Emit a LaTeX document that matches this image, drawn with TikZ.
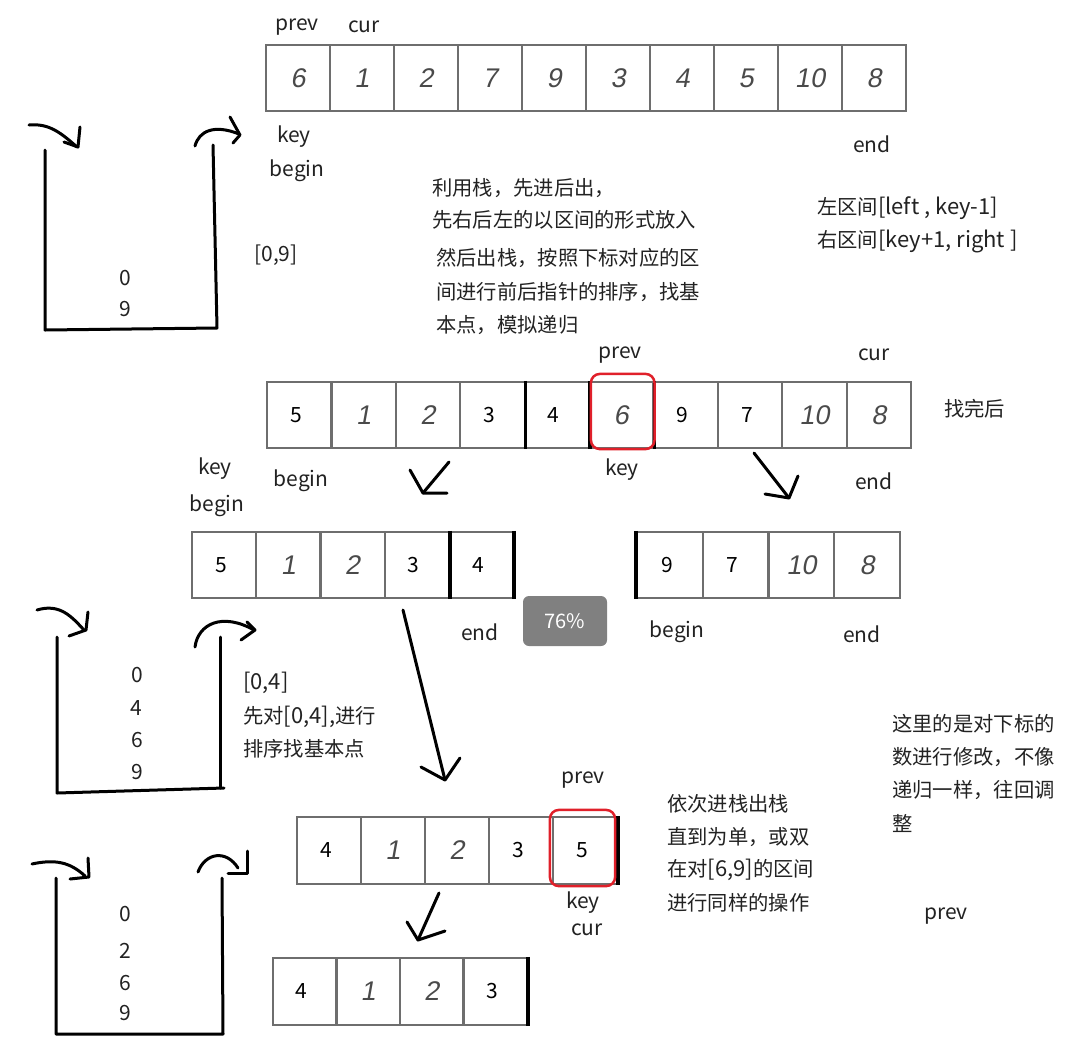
\documentclass[tikz,border=0pt]{standalone}
\usepackage{fontspec}
\setmainfont{Noto Sans CJK SC}
\newfontfamily\handf[FakeSlant=0.18]{Liberation Sans}
\newcommand\latw[1]{{\fontsize{22}{24}\selectfont #1}}
\usetikzlibrary{arrows.meta}
\definecolor{cellgray}{HTML}{6E6E6E}
\definecolor{handgray}{HTML}{4A4A4A}
\definecolor{txt}{HTML}{222222}
\definecolor{boxred}{HTML}{E0202A}
\definecolor{pctgray}{HTML}{808080}
\begin{document}
\begin{tikzpicture}[x=1pt,y=-1pt,
  cell/.style={draw=cellgray, line width=2.2pt, inner sep=0pt, minimum height=66pt},
  hd/.style={font={\handf\fontsize{27}{27}\selectfont}, text=handgray},
  ty/.style={font={\fontsize{21}{21}\selectfont}, text=black, text depth=0pt, text height=14pt, align=center, execute at begin node={\hspace*{-6pt}\raisebox{3pt}{}}},
  lbl/.style={font={\fontsize{21}{24}\selectfont}, text=txt, inner sep=0pt},
  zh/.style={font={\fontsize{20.3}{24}\selectfont}, text=txt, inner sep=0pt, anchor=west},
  thickb/.style={line width=3.5pt, black},
  stk/.style={line width=3pt, black, line cap=round, line join=round},
  redbox/.style={draw=boxred, line width=2.5pt, rounded corners=9pt},
]
\useasboundingbox (0,0) rectangle (1075,1063);
\fill[white] (0,0) rectangle (1075,1063);

% ---------- array 1 ----------
\foreach \v/\s [count=\i] in {6/hd,1/hd,2/hd,7/hd,9/hd,3/hd,4/hd,5/hd,10/hd,8/hd}
  \node[cell,\s,minimum width=64pt] (A\i) at ({266+(\i-0.5)*64},78) {\v};
\node[lbl] (a1prev) at (297,27) {prev};
\node[lbl] (a1cur) at (364,27) {cur};
\node[lbl] (a1key) at (294,137) {key};
\node[lbl] (a1begin) at (297,171) {begin};
\node[lbl] (a1end) at (872,144) {end};

% ---------- stack 1 ----------
\draw[stk] (45,150) -- (45,330) -- (217,328) -- (213,145);
\draw[stk] (29,125) .. controls (50,123) and (62,134) .. (77,147);
\draw[stk] (64,142) -- (78,147) -- (80,127);
\draw[stk] (195,146) .. controls (199,131) and (214,124) .. (239,134);
\draw[stk] (230,117) -- (240,135) -- (233,143);
\node[lbl] (s1a) at (125,278) {0};
\node[lbl] (s1b) at (125,309) {9};
\node[lbl] (s1r) at (276,255) {[0,9]};

% ---------- explanation 1 ----------
\node[zh] (t1) at (432,188) {利用栈，先进后出，};
\node[zh] (t2) at (432,220) {先右后左的以区间的形式放入};
\node[zh] (t3) at (436,258) {然后出栈，按照下标对应的区};
\node[zh] (t4) at (436,292) {间进行前后指针的排序，找基};
\node[zh] (t5) at (436,325) {本点，模拟递归};
\node[zh] (t6) at (817,208) {左区间\latw{[left , key-1]}};
\node[zh] (t7) at (817,241) {右区间\latw{[key+1, right ]}};

% ---------- array 2 ----------
\foreach \v/\s [count=\i] in {5/ty,1/hd,2/hd,3/ty,4/ty,6/hd,9/ty,7/ty,10/hd,8/hd}
  \node[cell,\s,minimum width=64.4pt] (B\i) at ({267+(\i-0.5)*64.4},415) {\v};
\draw[thickb] (B4.north east) -- (B4.south east);
\draw[thickb] (B5.north east) -- (B5.south east);
\draw[thickb] (B6.north east) -- (B6.south east);
\draw[redbox] ([shift={(3pt,7pt)}]B6.north west) rectangle ([shift={(0pt,0pt)}]B6.south east);
\node[lbl] (a2prev) at (620,355) {prev};
\node[lbl] (a2cur) at (874,355) {cur};
\node[zh] (a2done) at (944,409) {找完后};
\node[lbl] (a2key) at (622,470) {key};
\node[lbl] (a2end) at (874,481) {end};
\node[lbl] (a2key2) at (215,469) {key};
\node[lbl] (a2begin2) at (217,506) {begin};
\node[lbl] (a2begin) at (301,481) {begin};

% arrows from array 2
\coordinate (p1s) at (449,462); \coordinate (p1e) at (423,493);
\draw[stk] (p1s) -- (p1e);
\draw[stk] (410,470) -- (p1e) -- (447,493);
\coordinate (p2s) at (754,453); \coordinate (p2e) at (789,498);
\draw[stk] (p2s) -- (p2e);
\draw[stk] (765,494) -- (p2e) -- (798,476);

% ---------- array 3 ----------
\foreach \v/\s [count=\i] in {5/ty,1/hd,2/hd,3/ty,4/ty}
  \node[cell,\s,minimum width=64.2pt] (C\i) at ({192+(\i-0.5)*64.2},565) {\v};
\draw[thickb] (C4.north east) -- (C4.south east);
\draw[thickb] (C5.north east) -- (C5.south east);
\node[lbl] (a3end) at (480,632) {end};
\node[fill=pctgray, rounded corners=6pt, minimum width=84pt, minimum height=50pt,
      inner sep=0pt, text=white, font={\fontsize{20}{20}\selectfont}] (pct) at (565,621) {76\%};

% ---------- array 4 ----------
\foreach \v/\s [count=\i] in {9/ty,7/ty,10/hd,8/hd}
  \node[cell,\s,minimum width=65.75pt] (D\i) at ({637+(\i-0.5)*65.75},565) {\v};
\draw[thickb] (D1.north west) -- (D1.south west);
\node[lbl] (a4begin) at (677,632) {begin};
\node[lbl] (a4end) at (862,634) {end};

% ---------- stack 2 ----------
\draw[stk] (57,637) -- (57,793) -- (224,788);
\draw[stk] (220,637) -- (220,788);
\draw[stk] (37,610) .. controls (60,603) and (72,617) .. (84,630);
\draw[stk] (88,612) -- (86,630) -- (69,636);
\draw[stk] (195,647) .. controls (198,624) and (222,612) .. (254,630);
\draw[stk] (247,622) -- (255,630) -- (241,640);
\node[lbl] (s2a) at (137,675) {0};
\node[lbl] (s2b) at (136,708) {4};
\node[lbl] (s2c) at (137,740) {6};
\node[lbl] (s2d) at (137,772) {9};
\node[zh] (u1) at (243,683) {\latw{[0,4]}};
\node[zh] (u2) at (243,717) {先对\latw{[0,4],}进行};
\node[zh] (u3) at (243,749) {排序找基本点};

% arrow array 3 -> array 5
\coordinate (p3s) at (403,610); \coordinate (p3e) at (445,780);
\draw[stk] (p3s) -- (p3e);
\draw[stk] (421,767) -- (p3e) -- (460,758);

% ---------- array 5 ----------
\foreach \v/\s [count=\i] in {4/ty,1/hd,2/hd,3/ty,5/ty}
  \node[cell,\s,minimum width=64pt,minimum height=67pt] (E\i) at ({297+(\i-0.5)*64},850.5) {\v};
\draw[thickb] (E5.north east) -- (E5.south east);
\draw[redbox] ([shift={(-2pt,6pt)}]E5.north west) rectangle ([shift={(-3pt,-1pt)}]E5.south east);
\node[lbl] (a5prev) at (583,780) {prev};
\node[lbl] (a5key) at (583,903) {key};
\node[lbl] (a5cur) at (587,930) {cur};

\node[zh] (v1) at (667,804) {依次进栈出栈};
\node[zh] (v2) at (667,837) {直到为单，或双};
\node[zh] (v3) at (667,870) {在对\latw{[6,9]}的区间};
\node[zh] (v4) at (667,903) {进行同样的操作};

\node[zh] (w1) at (892,724) {这里的是对下标的};
\node[zh] (w2) at (892,757) {数进行修改，不像};
\node[zh] (w3) at (892,790) {递归一样，往回调};
\node[zh] (w4) at (892,823) {整};
\node[lbl] (rprev) at (946,916) {prev};

% arrow array 5 -> array 6
\coordinate (p4s) at (439,893); \coordinate (p4e) at (418,940);
\draw[stk] (p4s) -- (p4e);
\draw[stk] (407,922) -- (p4e) -- (445,931);

% ---------- array 6 ----------
\foreach \v/\s [count=\i] in {4/ty,1/hd,2/hd,3/ty}
  \node[cell,\s,minimum width=63.5pt,minimum height=67pt] (F\i) at ({273+(\i-0.5)*63.5},991.5) {\v};
\draw[thickb] (F4.north east) -- (F4.south east);

% ---------- stack 3 ----------
\draw[stk] (56,878) -- (56,1034) -- (223,1034) -- (222,878);
\draw[stk] (32,864) .. controls (55,859) and (70,862) .. (85,876);
\draw[stk] (88,858) -- (89,877) -- (70,879);
\draw[stk] (198,872) .. controls (205,853) and (226,849) .. (238,868);
\draw[stk] (228,873) -- (247,873) -- (247,851);
\node[lbl] (s3a) at (125,914) {0};
\node[lbl] (s3b) at (125,951) {2};
\node[lbl] (s3c) at (125,983) {6};
\node[lbl] (s3d) at (125,1013) {9};
\end{tikzpicture}
\end{document}
